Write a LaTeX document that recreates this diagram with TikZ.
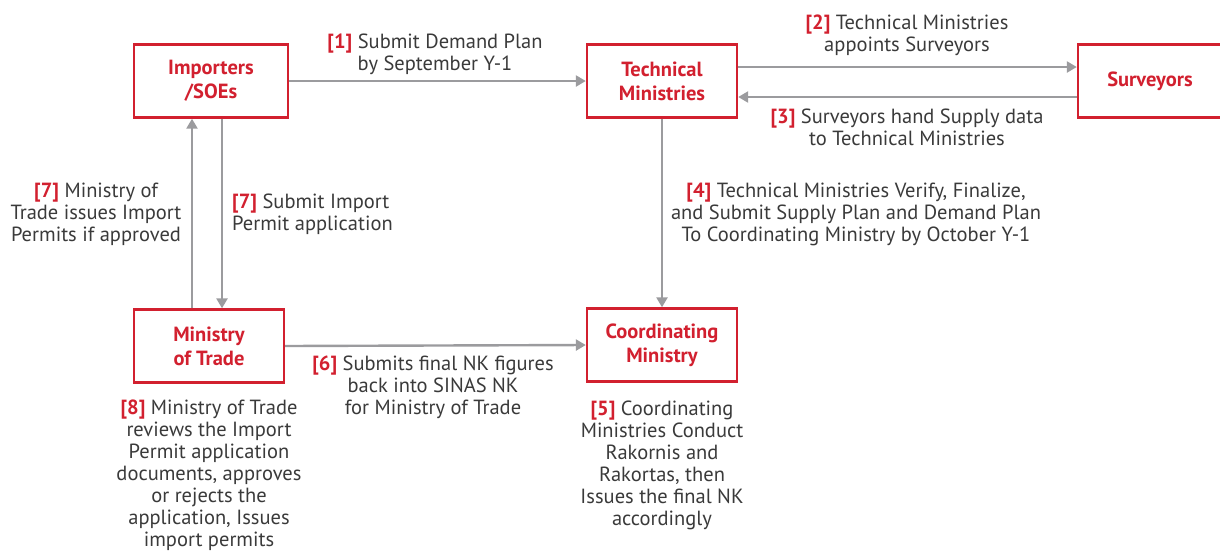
\documentclass[tikz,border=0pt]{standalone}
\usepackage{fontspec}
\setmainfont{PT Sans}
\usetikzlibrary{arrows.meta,calc}
\definecolor{brandred}{HTML}{D2202F}
\definecolor{arrowgray}{HTML}{9B9B9E}
\definecolor{txtgray}{HTML}{3A3A3A}
\newcommand{\stepnum}[1]{\textbf{\color{brandred}[#1]}}
\tikzset{
  box/.style={draw=brandred, line width=2.4pt, fill=white, minimum width=150pt, minimum height=73pt,
    align=center, text=brandred, font=\fontsize{20.5}{24}\selectfont\bfseries, inner sep=0pt},
  arr/.style={draw=arrowgray, line width=2.4pt, -{Triangle[length=10pt,width=11pt]}},
  lbl/.style={text=txtgray, align=center, font=\fontsize{20.5}{22}\selectfont, inner sep=0pt},
}
\begin{document}
\begin{tikzpicture}[x=1pt,y=-1pt]
\useasboundingbox (0,0) rectangle (1220,550);
\node[box, minimum width=154pt] (imp) at (211,81) {Importers\\/SOEs};
\node[box] (tech) at (662,81) {Technical\\Ministries};
\node[box, minimum width=144pt] (surv) at (1150,81) {Surveyors};
\node[box] (mot) at (209,346) {Ministry\\of Trade};
\node[box] (coord) at (662,345) {Coordinating\\Ministry};
\coordinate (upx) at (192,0);
\coordinate (dnx) at (222,0);
\draw[arr] (imp.east) -- (tech.west);
\draw[arr] ([yshift=14pt]tech.east) -- ([yshift=14pt]surv.west);
\draw[arr] ([yshift=-16pt]surv.west) -- ([yshift=-16pt]tech.east);
\draw[arr] (tech.south) -- (coord.north);
\draw[arr] (mot.north -| upx) -- (imp.south -| upx);
\draw[arr] (imp.south -| dnx) -- (mot.north -| dnx);
\draw[arr] (mot.east) -- (coord.west);
\node[lbl] (l1) at (435,54) {\stepnum{1} Submit Demand Plan\\by September Y-1};
\node[lbl] (l2) at (907,35) {\stepnum{2} Technical Ministries\\appoints Surveyors};
\node[lbl] (l3) at (907,127) {\stepnum{3} Surveyors hand Supply data\\to Technical Ministries};
\node[lbl] (l4) at (856,214) {\stepnum{4} Technical Ministries Verify, Finalize,\\and Submit Supply Plan and Demand Plan\\To Coordinating Ministry by October Y-1};
\node[lbl] (l7a) at (96,214) {\stepnum{7} Ministry of\\Trade issues Import\\Permits if approved};
\node[lbl, anchor=west, align=left] (l7b) at (232,214) {\stepnum{7} Submit Import\\Permit application};
\node[lbl] (l6) at (433,387) {\stepnum{6} Submits final NK figures\\back into SINAS NK\\for Ministry of Trade};
\node[lbl] (l8) at (209,475) {\stepnum{8} Ministry of Trade\\reviews the Import\\Permit application\\documents, approves\\or rejects the\\application, Issues\\import permits};
\node[lbl] (l5) at (662,465) {\stepnum{5} Coordinating\\Ministries Conduct\\Rakornis and\\Rakortas, then\\Issues the final NK\\accordingly};
\end{tikzpicture}
\end{document}
